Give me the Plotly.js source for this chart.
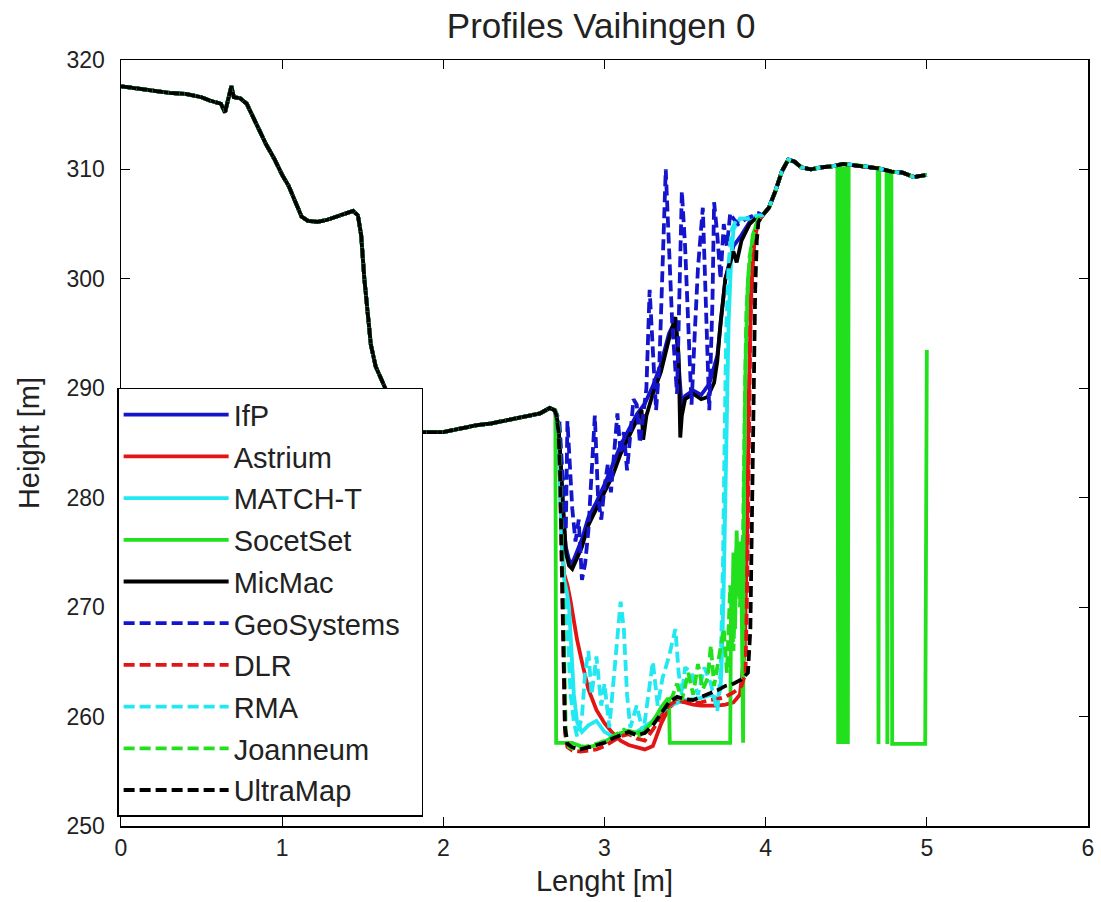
<!DOCTYPE html>
<html>
<head>
<meta charset="utf-8">
<script src="https://cdn.plot.ly/plotly-3.0.1.min.js"></script>
<style>html,body{margin:0;padding:0;background:#fff;}#chart{width:1101px;height:902px;}</style>
</head>
<body>
<div id="chart"></div>
<script>
// Shared profile before the gap (all methods agree)
const baseLeftX = [0.00,0.10,0.20,0.30,0.40,0.50,0.55,0.62,0.645,0.665,0.685,0.70,0.74,0.78,0.82,0.86,0.90,0.95,1.00,1.04,1.08,1.12,1.16,1.22,1.28,1.34,1.40,1.44,1.47,1.49,1.51,1.53,1.55,1.58,1.64,1.70,1.78,1.86,2.00,2.10,2.20,2.30,2.40,2.50,2.60,2.66,2.69];
const baseLeftY = [317.6,317.4,317.2,317.0,316.9,316.6,316.3,316.0,315.2,316.5,317.6,316.6,316.5,316.0,314.8,313.5,312.3,311.0,309.5,308.5,307.0,305.7,305.3,305.2,305.4,305.7,306.0,306.2,305.8,304.0,300.0,297.0,294.0,292.0,290.0,288.0,286.6,286.0,286.0,286.3,286.6,286.8,287.1,287.4,287.7,288.2,288.0];

// Shared profile after the gap
const baseRightX = [3.98,4.02,4.06,4.10,4.14,4.18,4.22,4.28,4.35,4.42,4.48,4.55,4.62,4.70,4.78,4.85,4.92,5.00];
const baseRightY = [305.8,306.5,308.0,309.8,310.9,310.7,310.2,310.0,310.2,310.3,310.5,310.4,310.3,310.1,309.8,309.7,309.3,309.5];

// SocetSet after the gap (with drop-outs)
const socetRightX = [3.98,4.02,4.06,4.10,4.14,4.18,4.22,4.28,4.35,4.42,4.445,4.45,4.455,4.46,4.465,4.47,4.475,4.48,4.485,4.49,4.495,4.50,4.505,4.51,4.515,4.55,4.62,4.695,4.70,4.705,4.75,4.755,4.76,4.78,4.785,4.99,5.00];
const socetRightY = [305.8,306.5,308.0,309.8,310.9,310.7,310.2,310.0,310.2,310.3,310.4,257.5,310.3,257.5,310.3,257.5,310.3,257.5,310.3,257.5,310.3,257.5,310.3,257.5,310.4,310.4,310.3,310.1,257.5,310.1,309.9,257.5,309.9,309.8,257.5,257.5,293.5];

// Per-method values inside the gap
const ifpMidX = [2.70,2.715,2.725,2.735,2.745,2.76,2.78,2.80,2.83,2.86,2.90,2.95,3.00,3.05,3.10,3.15,3.20,3.25,3.30,3.35,3.40,3.44,3.46,3.48,3.50,3.55,3.60,3.65,3.70,3.75,3.80,3.85,3.90,3.955];
const ifpMidY = [287.6,286.5,284,281,278,275.5,274.3,274.0,275.0,276.2,278.2,279.6,281.2,283.0,284.8,286.2,287.6,288.6,290.2,292.2,295.0,296.2,292,288.2,289.3,289.8,289.4,290.4,293,300,303,304,305.2,305.8];

const astriumMidX = [2.70,2.715,2.725,2.735,2.75,2.77,2.79,2.81,2.83,2.86,2.90,2.95,3.00,3.05,3.10,3.15,3.20,3.25,3.30,3.35,3.40,3.45,3.50,3.55,3.60,3.65,3.70,3.75,3.80,3.84,3.87,3.885,3.895,3.91,3.93,3.955];
const astriumMidY = [287.5,285.5,281,276,273,272,270.5,268.5,267,265,262.5,260.6,259.4,258.5,257.8,257.4,257.2,257.0,257.3,259.3,260.8,261.4,261.3,261.1,261.0,261.0,261.0,261.1,261.3,262,266,277,289,299,303.5,305.3];

const matchMidX = [2.70,2.715,2.725,2.735,2.75,2.765,2.78,2.795,2.81,2.83,2.86,2.90,2.95,3.00,3.05,3.10,3.20,3.30,3.40,3.50,3.60,3.66,3.70,3.72,3.73,3.74,3.75,3.76,3.77,3.785,3.80,3.84,3.90,3.955];
const matchMidY = [287.5,285.5,281,276,272.5,271.5,270,266,262,259.5,258.6,259.2,259.6,258.6,258.2,258.3,258.6,259.6,261.0,261.5,261.7,262.0,261.6,262.5,266,272,280,288,296,301.5,304.5,305.5,305.5,305.8];

const socetMidX = [2.695,2.70,2.75,2.76,2.80,2.85,2.90,2.95,3.00,3.05,3.10,3.15,3.20,3.25,3.30,3.35,3.39,3.40,3.405,3.78,3.785,3.79,3.80,3.81,3.82,3.83,3.84,3.85,3.855,3.86,3.865,3.875,3.89,3.92,3.955];
const socetMidY = [288.0,257.6,257.6,257.6,257.6,257.3,257.2,257.4,257.7,258.1,258.5,258.7,258.5,258.8,259.5,260.8,261.6,261.6,257.6,257.6,270,266,275,268,277,271,276,272,257.6,257.6,280,292,300,304,305.5];

const micmacMidX = [2.70,2.715,2.725,2.735,2.745,2.76,2.78,2.80,2.83,2.86,2.90,2.95,3.00,3.05,3.10,3.15,3.20,3.23,3.24,3.26,3.30,3.35,3.40,3.44,3.46,3.47,3.48,3.50,3.55,3.60,3.64,3.68,3.70,3.72,3.75,3.78,3.80,3.82,3.85,3.90,3.955];
const micmacMidY = [287.6,286.5,284,281,278,275,273.8,273.5,274.5,275.5,277.5,279,280.5,282,284,285.5,287,288,285.3,287.5,289.5,291.5,294.5,296.5,293,285.5,287.5,289,289.5,289,289.2,290.5,292.5,296,300,301.5,302.5,301.5,303.5,305,305.8];

const geoMidX = [2.70,2.72,2.74,2.76,2.77,2.78,2.80,2.82,2.84,2.86,2.88,2.90,2.92,2.94,2.96,2.98,3.00,3.02,3.04,3.06,3.08,3.10,3.12,3.14,3.16,3.18,3.20,3.22,3.24,3.26,3.28,3.30,3.32,3.34,3.36,3.38,3.40,3.42,3.45,3.47,3.48,3.50,3.52,3.54,3.56,3.58,3.61,3.63,3.65,3.67,3.68,3.70,3.72,3.74,3.76,3.78,3.80,3.83,3.88,3.955];
const geoMidY = [287.8,287.0,282,277,287,284,279,276,278,272.5,274,277,283,287.5,280,278,281,283,280.5,284,287.7,284,286,282.5,286,289,288.5,285,287.5,290,299,293,288,292,300,310,303,296,289.5,300,308,303,295,288.5,295,301,306.5,297,288,298,307,304,300,305,303,306,305.5,305,305.5,306];

const dlrMidX = [2.70,2.715,2.725,2.735,2.745,2.755,2.77,2.80,2.85,2.90,2.95,3.00,3.05,3.10,3.15,3.20,3.25,3.30,3.35,3.40,3.45,3.50,3.55,3.60,3.65,3.70,3.75,3.80,3.85,3.875,3.885,3.895,3.905,3.92,3.94,3.955];
const dlrMidY = [287.4,285.5,281,274,264,258.5,257.2,256.9,256.8,256.9,257.0,257.3,257.8,258.2,258.4,258.0,257.8,258.8,260.0,261.0,261.5,261.4,261.2,261.3,261.5,261.6,261.8,262.2,262.8,264,272,285,296,302,304.5,305.3];

const rmaMidX = [2.70,2.715,2.725,2.735,2.75,2.77,2.79,2.81,2.83,2.86,2.88,2.90,2.92,2.95,2.98,3.00,3.03,3.06,3.08,3.10,3.12,3.14,3.16,3.20,3.24,3.28,3.30,3.33,3.36,3.40,3.44,3.46,3.48,3.50,3.54,3.58,3.62,3.66,3.70,3.72,3.735,3.745,3.755,3.77,3.79,3.82,3.88,3.955];
const rmaMidY = [287.5,285.5,281,276,272,268,262,259.5,258.2,260,264,266,262,265.5,261,263,259,264,268,270.5,268,262,259,261,258.5,263,265,261,263.5,265.5,268,264,262,264.5,264,262,264.5,263,260.5,264,274,285,295,301.5,304.5,305.5,305.5,305.8];

const joanMidX = [2.70,2.715,2.725,2.735,2.745,2.76,2.78,2.82,2.87,2.92,2.97,3.02,3.07,3.12,3.17,3.22,3.27,3.32,3.37,3.42,3.45,3.48,3.52,3.55,3.58,3.61,3.64,3.66,3.68,3.71,3.74,3.76,3.78,3.80,3.82,3.84,3.86,3.87,3.88,3.90,3.93,3.955];
const joanMidY = [287.8,286.5,283,276,266,258.5,257.2,257.0,257.2,257.4,257.6,257.9,258.4,258.8,258.4,258.3,259.0,260.0,261.2,261.8,263.0,261.5,264.0,262.0,264.8,262.5,263.5,266.5,262.8,265.5,268.0,264.0,272.0,266.0,276.0,270.0,277.0,288,297,302,304.5,305.5];

const ultraMidX = [2.70,2.715,2.725,2.735,2.745,2.755,2.77,2.80,2.85,2.90,2.95,3.00,3.05,3.10,3.15,3.20,3.25,3.30,3.35,3.40,3.45,3.50,3.55,3.60,3.65,3.70,3.75,3.80,3.85,3.89,3.905,3.915,3.925,3.935,3.945,3.955];
const ultraMidY = [287.6,286,282,275,265,259,257.5,257.2,257.0,257.2,257.4,257.6,258.0,258.3,258.6,258.3,258.5,259.2,260.3,261.3,261.8,261.6,261.5,261.8,262.1,262.4,262.8,263.0,263.4,264.0,268,278,290,299,303.5,305.2];

const names = ['IfP','Astrium','MATCH-T','SocetSet','MicMac','GeoSystems\u00a0\u00a0','DLR','RMA','Joanneum','UltraMap'];
const colors = ['#1414cc','#e31414','#22e8f2','#22e01e','#000000','#1414cc','#e31414','#22e8f2','#22e01e','#000000'];
const dashes = ['solid','solid','solid','solid','solid','11px,5px','11px,5px','11px,5px','11px,5px','11px,5px'];

const mids = [
  [ifpMidX, ifpMidY, baseRightX, baseRightY],
  [astriumMidX, astriumMidY, baseRightX, baseRightY],
  [matchMidX, matchMidY, baseRightX, baseRightY],
  [socetMidX, socetMidY, socetRightX, socetRightY],
  [micmacMidX, micmacMidY, baseRightX, baseRightY],
  [geoMidX, geoMidY, baseRightX, baseRightY],
  [dlrMidX, dlrMidY, baseRightX, baseRightY],
  [rmaMidX, rmaMidY, baseRightX, baseRightY],
  [joanMidX, joanMidY, baseRightX, baseRightY],
  [ultraMidX, ultraMidY, baseRightX, baseRightY]
];

const traces = names.map((n, i) => ({
  type: 'scatter',
  mode: 'lines',
  name: n,
  legendgroup: 'g' + i,
  x: baseLeftX.concat(mids[i][0], mids[i][2]),
  y: baseLeftY.concat(mids[i][1], mids[i][3]),
  line: {color: colors[i], width: 3.8, dash: dashes[i]}
}));

const axisCommon = {
  showline: true, linecolor: '#000', linewidth: 1.5, mirror: 'ticks',
  ticks: 'inside', ticklen: 9, tickwidth: 1.2, tickcolor: '#000',
  showgrid: false, zeroline: false,
  tickfont: {size: 23, color: '#222'}
};

const layout = {
  width: 1101, height: 902,
  margin: {l: 121, r: 13, t: 60, b: 76},
  paper_bgcolor: '#fff', plot_bgcolor: '#fff',
  font: {family: 'Liberation Sans, Arial, sans-serif', color: '#222'},
  title: {text: 'Profiles Vaihingen 0', font: {size: 35, color: '#222'}, x: 0.546, xanchor: 'center', y: 0.972, yanchor: 'middle'},
  xaxis: Object.assign({}, axisCommon, {range: [0, 6], tickvals: [0,1,2,3,4,5,6], ticklabelstandoff: 1,
    title: {text: 'Lenght [m]', font: {size: 29, color: '#222'}, standoff: 10}}),
  yaxis: Object.assign({}, axisCommon, {range: [250, 320], tickvals: [250,260,270,280,290,300,310,320], ticklabelstandoff: 10,
    title: {text: 'Height [m]', font: {size: 29, color: '#222'}, standoff: 18}}),
  showlegend: true,
  legend: {
    x: -0.004, xanchor: 'left', y: 0.572, yanchor: 'top',
    bgcolor: '#fff', bordercolor: '#000', borderwidth: 1.5,
    font: {size: 29, color: '#222'},
    itemwidth: 105, tracegroupgap: 1, traceorder: 'grouped'
  }
};

Plotly.newPlot('chart', traces, layout, {displayModeBar: false, staticPlot: true});
</script>
</body>
</html>
